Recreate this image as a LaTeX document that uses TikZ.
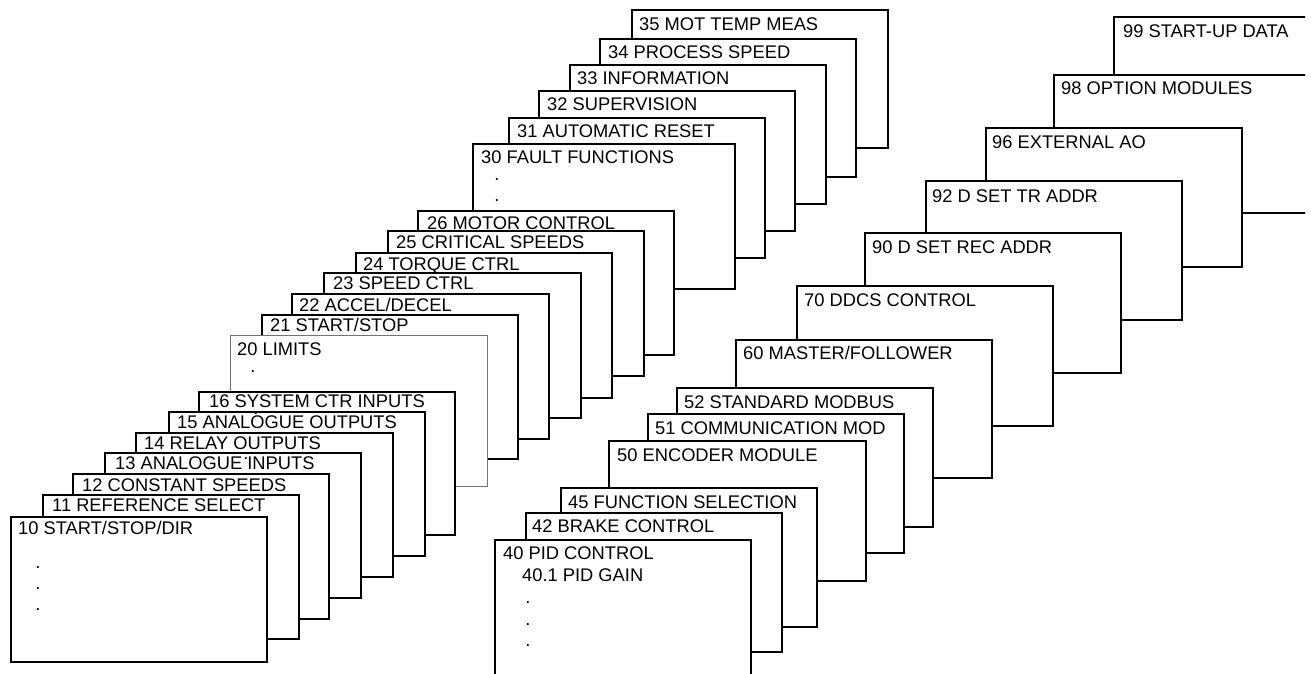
\documentclass[tikz,border=0pt]{standalone}
\usepackage{fontspec}
\setmainfont{Liberation Sans}
\tikzset{
  cardbox/.style={draw=black, fill=white, line width=1.9pt, anchor=north west, inner sep=0pt, outer sep=0pt},
  opencard/.style={cardbox, draw=none},
  thincard/.style={cardbox, draw=black!55, line width=0.9pt},
  cardedge/.style={draw=black, line width=1.9pt},
  cardtext/.style={anchor=base west, inner sep=0pt, font=\fontsize{18.3}{21}\selectfont},
  dotmark/.style={inner sep=0pt, font=\fontsize{18.3}{21}\selectfont},
}
% name, style, left, top, right, bottom, dx, dy(baseline), label
\newcommand\card[9]{%
  \node[#2, minimum width={(#5)-(#3)}, minimum height={(#6)-(#4)}] (#1) at (#3,-#4) {};
  \node[cardtext] (#1t) at ([shift={(#7,-#8)}]#1.north west) {#9};
}
\begin{document}
\begin{tikzpicture}[x=1pt,y=1pt]
\useasboundingbox (0,0) rectangle (1311,-674);
\clip (0,0) rectangle (1305,-674);
% ---- right stack (back to front)
\card{c99}{opencard}{1114}{17}{1380}{150}{9}{21}{99 START-UP DATA}
\draw[cardedge] (c99.south west) -- (c99.north west) -- (c99.north east);
\card{c98}{cardbox}{1054}{75}{1320}{213}{7}{20}{98 OPTION MODULES}
\card{c96}{cardbox}{986}{128}{1242}{267}{6}{20}{96 EXTERNAL AO}
\card{c92}{cardbox}{926}{181}{1182}{320}{6}{21}{92 D SET TR ADDR}
\card{c90}{cardbox}{865}{233}{1121}{373}{7}{20}{90 D SET REC ADDR}
\card{c70}{cardbox}{797}{286}{1053}{426}{7}{20}{70 DDCS CONTROL}
\card{c60}{cardbox}{736}{340}{992}{478}{7}{19.5}{60 MASTER/FOLLOWER}
\card{c52}{cardbox}{677}{388}{933}{527}{7}{20}{52 STANDARD MODBUS}
\card{c51}{cardbox}{648}{414}{904}{553}{7}{20}{51 COMMUNICATION MOD}
\card{c50}{cardbox}{609}{441}{866}{581}{8}{20}{50 ENCODER MODULE}
\card{c45}{cardbox}{561}{488}{817}{627}{7}{20}{45 FUNCTION SELECTION}
\card{c42}{cardbox}{526}{513}{782}{652}{6}{19.5}{42 BRAKE CONTROL}
\card{c40}{cardbox}{495}{540}{751}{700}{8}{19.5}{40 PID CONTROL}
\node[cardtext] (c40s) at (522,-581.5) {40.1 PID GAIN};
\node[dotmark] (c40d1) at (528,-603) {.};
\node[dotmark] (c40d2) at (528,-625) {.};
\node[dotmark] (c40d3) at (528,-646) {.};
% ---- upper stack
\card{c35}{cardbox}{632}{10}{888}{148}{7}{21}{35 MOT TEMP MEAS}
\card{c34}{cardbox}{600}{39}{856}{177}{8}{19.5}{34 PROCESS SPEED}
\card{c33}{cardbox}{570}{65}{826}{204}{7}{19.5}{33 INFORMATION}
\card{c32}{cardbox}{539}{91}{795}{231}{8}{20}{32 SUPERVISION}
\card{c31}{cardbox}{509}{118}{765}{258}{8}{20}{31 AUTOMATIC RESET}
\card{c30}{cardbox}{473}{144}{735}{289}{8}{19.5}{30 FAULT FUNCTIONS}
\node[dotmark] (c30d1) at (497,-180) {.};
\node[dotmark] (c30d2) at (497,-201) {.};
\card{c26}{cardbox}{418}{211}{674}{355}{9}{18.5}{26 MOTOR CONTROL}
\card{c25}{cardbox}{388}{231}{644}{376}{8}{17.4}{25 CRITICAL SPEEDS}
\card{c24}{cardbox}{356}{253}{612}{398}{7}{17.4}{24 TORQUE CTRL}
\card{c23}{cardbox}{324}{273}{581}{418}{9}{16.6}{23 SPEED CTRL}
\card{c22}{cardbox}{292}{294}{549}{439}{7}{17.4}{22 ACCEL/DECEL}
\card{c21}{cardbox}{262}{315}{518}{459}{8}{16.6}{21 START/STOP}
\card{c20}{thincard}{230}{335}{487}{486}{7}{20.4}{20 LIMITS}
\node[dotmark] (c20d1) at (253,-372) {.};
% ---- lower left stack
\card{c16}{cardbox}{199}{392}{455}{535}{10}{15.6}{16 SYSTEM CTR INPUTS}
\card{c15}{cardbox}{169}{412}{425}{556}{8}{16.6}{15 ANALOGUE OUTPUTS}
\card{c14}{cardbox}{136}{433}{393}{577}{8}{16.6}{14 RELAY OUTPUTS}
\card{c13}{cardbox}{105}{453}{361}{598}{10}{16.6}{13 ANALOGUE INPUTS}
\card{c12}{cardbox}{73}{474}{329}{619}{9}{17.4}{12 CONSTANT SPEEDS}
\card{c11}{cardbox}{43}{495}{299}{639}{9}{16.6}{11 REFERENCE SELECT}
\card{c10}{cardbox}{11}{517}{267}{662}{7}{17.4}{10 START/STOP/DIR}
\node[dotmark] (c10d1) at (38,-568) {.};
\node[dotmark] (c10d2) at (38,-589) {.};
\node[dotmark] (c10d3) at (38,-610) {.};
% stray dots printed over the texts
\node[dotmark] (s1) at (247,-393) {.};
\node[dotmark] (s2) at (256,-414) {.};
\node[dotmark] (s3) at (246,-459) {.};
\end{tikzpicture}
\end{document}
